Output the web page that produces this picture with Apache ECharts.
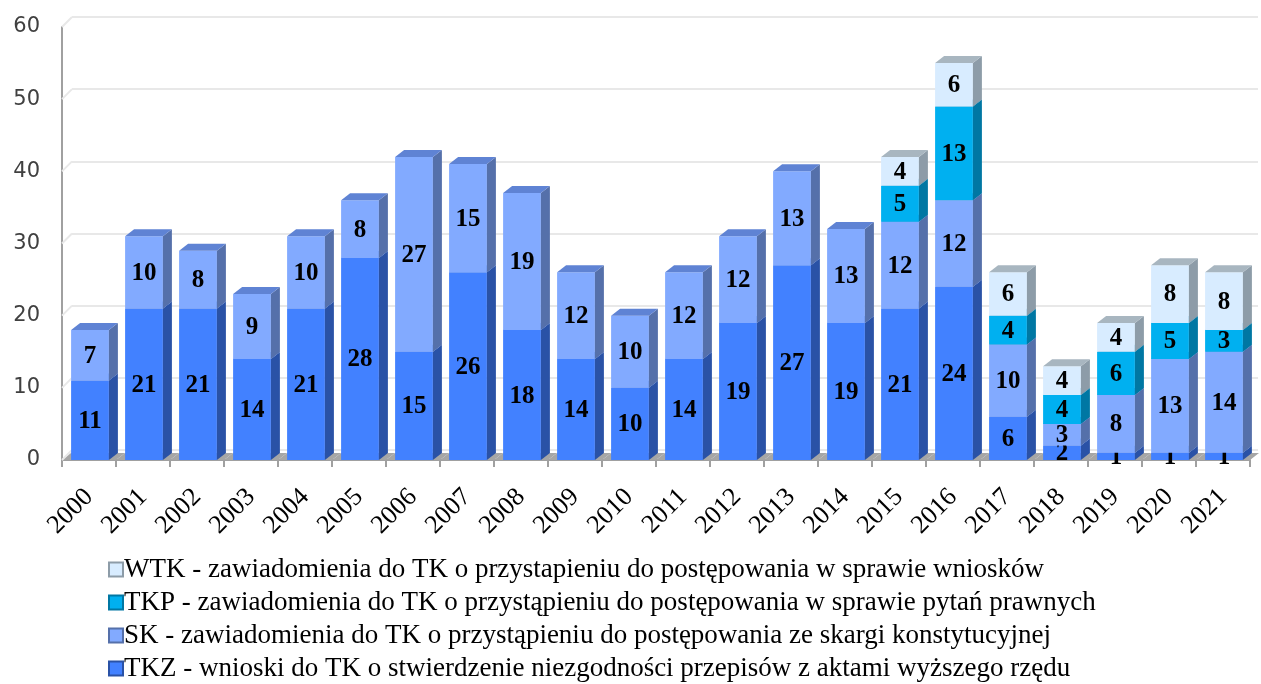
<!DOCTYPE html>
<html>
<head>
<meta charset="utf-8">
<script src="https://cdn.jsdelivr.net/npm/echarts@6/dist/echarts.min.js"></script>
<style>
  html, body { margin: 0; padding: 0; background: #fff; }
  #chart { width: 1261px; height: 684px; }
</style>
</head>
<body>
<div id="chart"></div>
<script>
const years = ['2000','2001','2002','2003','2004','2005','2006','2007','2008','2009','2010',
               '2011','2012','2013','2014','2015','2016','2017','2018','2019','2020','2021'];
const tkz = [11,21,21,14,21,28,15,26,18,14,10,14,19,27,19,21,24,6,2,1,1,1];
const sk  = [7,10,8,9,10,8,27,15,19,12,10,12,12,13,13,12,12,10,3,8,13,14];
const tkp = [0,0,0,0,0,0,0,0,0,0,0,0,0,0,0,5,13,4,4,6,5,3];
const wtk = [0,0,0,0,0,0,0,0,0,0,0,0,0,0,0,4,6,6,4,4,8,8];
const yTicks = [0,10,20,30,40,50,60];

const names = {
  wtk: 'WTK - zawiadomienia do TK o przystapieniu do postępowania w sprawie wniosków',
  tkp: 'TKP - zawiadomienia do TK o przystąpieniu do postępowania w sprawie pytań prawnych',
  sk:  'SK - zawiadomienia do TK o przystąpieniu do postępowania ze skargi konstytucyjnej',
  tkz: 'TKZ - wnioski do TK o stwierdzenie niezgodności przepisów z aktami wyższego rzędu'
};

// depth of the 3d look
const DX = 9, DY = 7;

function stackData(values, below) {
  return values.map((v, i) => {
    let base = 0;
    below.forEach(arr => { base += arr[i]; });
    return [i, v, base];
  });
}

function barRenderer(front, side, top) {
  return function (params, api) {
    const v = api.value(1);
    if (!v) return;
    const base = api.value(2);
    const p0 = api.coord([api.value(0), base]);
    const p1 = api.coord([api.value(0), base + v]);
    const band = api.size([1, 0])[0];
    const w = band * 0.7;
    const x0 = p0[0] - w / 2 + 1;
    const x1 = x0 + w;
    const yb = p0[1], yt = p1[1];
    return {
      type: 'group',
      children: [
        { type: 'rect', shape: { x: x0, y: yt, width: w, height: yb - yt },
          style: { fill: front } },
        { type: 'polygon', shape: { points: [[x1, yb], [x1 + DX, yb - DY], [x1 + DX, yt - DY], [x1, yt]] },
          style: { fill: side } },
        { type: 'polygon', shape: { points: [[x0, yt], [x1, yt], [x1 + DX, yt - DY], [x0 + DX, yt - DY]] },
          style: { fill: top } },
        { type: 'text', x: (x0 + x1) / 2, y: (yb + yt) / 2 + 1,
          style: { text: String(v), fill: '#000', align: 'center', verticalAlign: 'middle',
                   font: 'bold 25px "Liberation Serif", serif' } }
      ]
    };
  };
}

function floorRenderer(params, api) {
  const p = api.coord([api.value(0), 0]);
  const band = api.size([1, 0])[0];
  const xl = p[0] - band / 2, xr = p[0] + band / 2;
  return {
    type: 'polygon',
    shape: { points: [[xl, p[1]], [xr, p[1]], [xr + DX, p[1] - DY], [xl + DX, p[1] - DY]] },
    style: { fill: '#a6a6a6' }
  };
}

function wallRenderer(params, api) {
  const p = api.coord([0, api.value(0)]);
  const band = api.size([1, 0])[0];
  const x = p[0] - band / 2;
  return {
    type: 'line',
    shape: { x1: x, y1: p[1], x2: x + 10, y2: p[1] - 10 },
    style: { stroke: '#e8e8e8', lineWidth: 2 }
  };
}

const chart = echarts.init(document.getElementById('chart'));

function barSeries(key, data, front, side, top) {
  return {
    name: names[key],
    type: 'custom',
    xAxisIndex: 0, yAxisIndex: 0,
    renderItem: barRenderer(front, side, top),
    itemStyle: { color: front, borderColor: side, borderWidth: 1 },
    encode: { x: 0, y: [1, 2] },
    data: data,
    z: 5
  };
}

chart.setOption({
  animation: false,
  grid: [
    { left: 62, right: 11, top: 27, bottom: 224 },
    { left: 72, right: 3, top: 17, bottom: 234 }
  ],
  xAxis: [
    {
      type: 'category', gridIndex: 0, data: years,
      axisLine: { lineStyle: { color: '#a0a0a0', width: 2 } },
      axisTick: { show: true, length: 7, lineStyle: { color: '#a0a0a0', width: 2 } },
      axisLabel: {
        interval: 0, rotate: 45, margin: 33, color: '#000',
        fontFamily: 'Liberation Serif', fontSize: 26
      }
    },
    { type: 'category', gridIndex: 1, data: years, show: false }
  ],
  yAxis: [
    {
      type: 'value', gridIndex: 0, min: 0, max: 60, interval: 10,
      axisLine: { show: true, lineStyle: { color: '#a0a0a0', width: 2 } },
      axisTick: { show: false },
      splitLine: { show: false },
      axisLabel: { color: '#404040', fontFamily: 'DejaVu Sans', fontSize: 21, margin: 22 }
    },
    {
      type: 'value', gridIndex: 1, min: 0, max: 60, interval: 10,
      axisLine: { show: false }, axisTick: { show: false }, axisLabel: { show: false },
      splitLine: { lineStyle: { color: '#e8e8e8', width: 2 } }
    }
  ],
  legend: {
    orient: 'vertical',
    left: 108, top: 556, padding: 0,
    itemWidth: 14, itemHeight: 14, itemGap: 6,
    icon: 'rect',
    data: [names.wtk, names.tkp, names.sk, names.tkz],
    textStyle: { fontFamily: 'Liberation Serif', fontSize: 27, lineHeight: 27, color: '#000',
                 padding: [0, 0, 0, -4] }
  },
  series: [
    {
      type: 'custom', xAxisIndex: 0, yAxisIndex: 0, renderItem: floorRenderer,
      data: years.map((y, i) => [i]), z: 1, silent: true
    },
    {
      type: 'custom', xAxisIndex: 0, yAxisIndex: 0, renderItem: wallRenderer,
      data: yTicks.map(v => [v]), encode: { y: 0 }, z: 1, silent: true
    },
    barSeries('tkz', stackData(tkz, []), '#4281ff', '#2a52a6', '#5a86e6'),
    barSeries('sk', stackData(sk, [tkz]), '#82aaff', '#5570aa', '#5f83d4'),
    barSeries('tkp', stackData(tkp, [tkz, sk]), '#00b0f0', '#0077a3', '#0094cc'),
    barSeries('wtk', stackData(wtk, [tkz, sk, tkp]), '#d8ecff', '#8d9ca8', '#a8b6c0')
  ]
});
</script>
</body>
</html>
